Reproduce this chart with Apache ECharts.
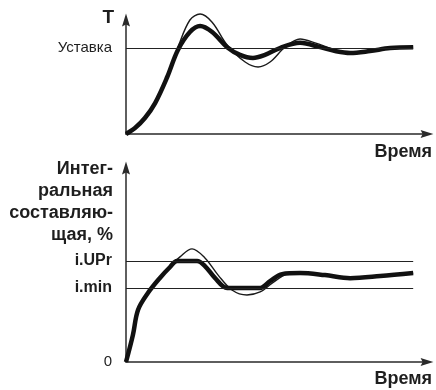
<!DOCTYPE html>
<html>
<head>
<meta charset="utf-8">
<script src="https://cdn.jsdelivr.net/npm/echarts@6/dist/echarts.min.js"></script>
<style>
html,body{margin:0;padding:0;background:#fff;}
#chart{width:436px;height:390px;}
</style>
</head>
<body>
<div id="chart"></div>
<script>
// ---- Top panel: temperature T vs time ----
const setpoint = 100;                 // "Уставка"
const topTickValues = [100];
const topTickLabels = ['Уставка'];
const topThickTime = [0, 3, 6.3, 9.7, 13.7, 17.3, 21.3, 24.7, 28.7, 33.7, 38, 42.3, 46.3, 51.3, 58, 64.7, 69.7, 74.7, 81.3, 88, 95.7];
const topThickVal  = [0, 7, 18.6, 36, 66, 97.7, 118.6, 125.6, 118.6, 101, 92, 88.4, 92, 100, 106, 101, 96.5, 94.2, 96.5, 100, 101];
const topThinTime  = [0, 3, 6.3, 9.7, 13.7, 17.3, 21.3, 24.7, 28.7, 33.7, 39.7, 44, 48, 53, 58, 63, 69.7, 74.7, 81.3, 88, 95.7];
const topThinVal   = [0, 7, 18.6, 37, 68, 101, 132.6, 139.5, 130, 103.5, 83.7, 78, 83.7, 101, 110.5, 106, 97.7, 94.2, 96.5, 100, 101];

// ---- Bottom panel: integral component, % ----
const iUPr = 100;
const iMin = 73.3;
const botTickValues = [0, 73.3, 100];
const botTickLabels = ['{n|0}', 'i.min', 'i.UPr'];
const botThickTime = [0, 2.3, 4, 7.3, 11.3, 14.7, 17, 23.7, 26.3, 29.7, 33.7, 44.7, 48, 52, 58, 66.3, 74.7, 84.7, 95.7];
const botThickVal  = [0, 26.7, 51.5, 68.3, 83.2, 94, 100, 100, 95, 83, 73.3, 73.3, 80, 87, 88, 86, 83, 85, 88];
const botThinTime  = [0, 2.3, 4, 7.3, 11.3, 14.7, 18, 22, 26.3, 30.7, 35.3, 40.3, 44.7, 48.7, 53.7, 58, 66.3, 74.7, 84.7, 95.7];
const botThinVal   = [0, 26.7, 51.5, 68.3, 83.2, 95, 104, 112, 103, 86, 71.3, 66.3, 69.3, 78, 87, 88, 86, 83, 85, 88];

const timeMax = 100.3;
const lineEnd = 95.7;

function pairs(xs, ys){ return xs.map((x,i)=>[x, ys[i]]); }
function labelFor(vals, labs){ return v => { for (let i=0;i<vals.length;i++){ if (Math.abs(vals[i]-v)<1e-6) return labs[i]; } return ''; }; }

const FONT = '"Liberation Sans", Arial, sans-serif';
const TXT = '#1e1e1e';
const axisLineStyle = {color:'#2a2a2a', width:1.5};
const ARROW = {show:true, symbol:['none','path://M5,0 L10,16 L5,13.5 L0,16 Z'], symbolSize:[8,16], lineStyle:axisLineStyle};

const chart = echarts.init(document.getElementById('chart'), null, {renderer:'canvas'});

function hLine(v){ return [{coord:[0, v]}, {coord:[lineEnd, v]}]; }

const option = {
  animation: false,
  backgroundColor: '#fff',
  grid: [
    {left:126, top:20, width:301, height:114, outerBoundsMode:'none'},
    {left:126, top:168, width:301, height:194, outerBoundsMode:'none'}
  ],
  xAxis: [
    {gridIndex:0, type:'value', min:0, max:timeMax,
     name:'Время', nameLocation:'end', nameGap:5, nameMoveOverlap:false,
     nameTextStyle:{fontFamily:FONT, fontWeight:'bold', fontSize:18, color:TXT, align:'right', verticalAlign:'top', padding:[9,0,0,0]},
     axisLine:ARROW, axisTick:{show:false}, axisLabel:{show:false}, splitLine:{show:false}},
    {gridIndex:1, type:'value', min:0, max:timeMax,
     name:'Время', nameLocation:'end', nameGap:5, nameMoveOverlap:false,
     nameTextStyle:{fontFamily:FONT, fontWeight:'bold', fontSize:18, color:TXT, align:'right', verticalAlign:'top', padding:[8,0,0,0]},
     axisLine:ARROW, axisTick:{show:false}, axisLabel:{show:false}, splitLine:{show:false}}
  ],
  yAxis: [
    {gridIndex:0, type:'value', min:0, max:132.6,
     name:'T', nameLocation:'end', nameGap:2, nameMoveOverlap:false,
     nameTextStyle:{fontFamily:FONT, fontWeight:'bold', fontSize:19, color:TXT, align:'right', verticalAlign:'middle', padding:[0,12,0,0]},
     axisLine:ARROW, axisTick:{show:false}, splitLine:{show:false},
     axisLabel:{show:true, customValues:topTickValues, formatter:labelFor(topTickValues, topTickLabels), margin:14,
                fontFamily:FONT, fontSize:15, color:TXT}},
    {gridIndex:1, type:'value', min:0, max:192,
     name:'Интег-\nральная\nсоставляю-\nщая, %', nameLocation:'end', nameGap:10, nameMoveOverlap:false,
     nameTextStyle:{fontFamily:FONT, fontWeight:'bold', fontSize:18, lineHeight:22, color:TXT, align:'right', verticalAlign:'top', padding:[0,13,0,0]},
     axisLine:ARROW, axisTick:{show:false}, splitLine:{show:false},
     axisLabel:{show:true, customValues:botTickValues, formatter:labelFor(botTickValues, botTickLabels), margin:14,
                fontFamily:FONT, fontSize:16, fontWeight:'bold', color:TXT,
                rich:{n:{fontFamily:FONT, fontSize:15, fontWeight:'normal', color:TXT}}}}
  ],
  series: [
    {type:'line', xAxisIndex:0, yAxisIndex:0, data:pairs(topThinTime, topThinVal), smooth:0.35, showSymbol:false, clip:false,
     lineStyle:{color:'#1a1a1a', width:1.4}, z:2,
     markLine:{silent:true, symbol:['none','none'], label:{show:false}, lineStyle:{type:'solid', width:1, color:'#222'},
       data:[hLine(setpoint)]}},
    {type:'line', xAxisIndex:0, yAxisIndex:0, data:pairs(topThickTime, topThickVal), smooth:0.35, showSymbol:false, clip:false,
     lineStyle:{color:'#111', width:4.5}, z:3},
    {type:'line', xAxisIndex:1, yAxisIndex:1, data:pairs(botThinTime, botThinVal), smooth:0.35, showSymbol:false, clip:false,
     lineStyle:{color:'#1a1a1a', width:1.4}, z:2,
     markLine:{silent:true, symbol:['none','none'], label:{show:false}, lineStyle:{type:'solid', width:1, color:'#222'},
       data:[hLine(iUPr), hLine(iMin)]}},
    {type:'line', xAxisIndex:1, yAxisIndex:1, data:pairs(botThickTime, botThickVal), smooth:0.35, showSymbol:false, clip:false,
     lineStyle:{color:'#111', width:4.5}, z:3}
  ]
};
chart.setOption(option);
</script>
</body>
</html>
